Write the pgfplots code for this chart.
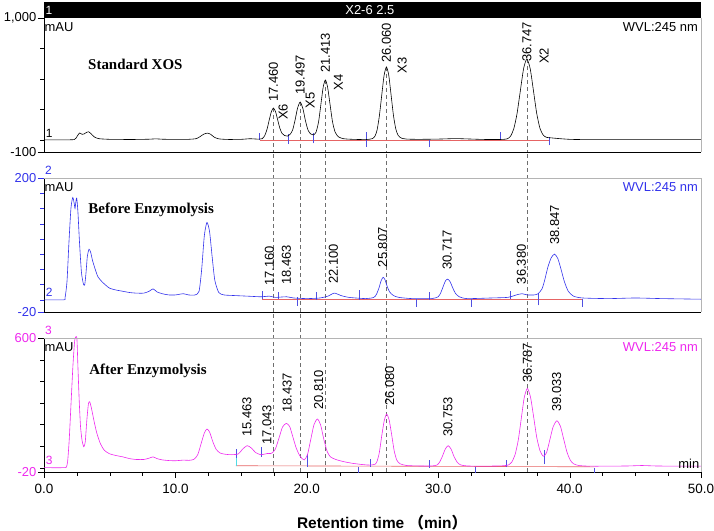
\documentclass[border=0pt]{standalone}
\usepackage{pgfplots}
\pgfplotsset{compat=1.18}
\usepackage{fontspec}
\setmainfont{Liberation Sans}
\newfontfamily\titlefont{Liberation Serif}
\newfontfamily\cjk{Noto Sans CJK SC}
\definecolor{cblue}{RGB}{50,50,235}
\definecolor{cmag}{RGB}{238,40,238}
\definecolor{cred}{RGB}{230,100,100}
\definecolor{cbord}{RGB}{180,180,180}
\definecolor{cdash}{RGB}{110,110,110}
\definecolor{ctick}{RGB}{80,80,225}
\definecolor{ccyan}{RGB}{80,220,230}
\newcommand{\fs}{\fontsize{13}{13}\selectfont}
\newcommand{\fn}{\fontsize{12}{12}\selectfont}
\tikzset{
  plab/.style={rotate=90, anchor=west, font=\fs, inner sep=0pt},
  xlab/.style={rotate=90, anchor=center, font=\fs, inner sep=0pt},
  ttl/.style={anchor=base west, font=\titlefont\bfseries\fontsize{15}{15}\selectfont, inner sep=0pt},
}
\begin{document}
\begin{tikzpicture}
\pgfplotsset{
  panel/.style={
    scale only axis, width=657bp, height=134bp,
    xmin=0, xmax=50,
    axis x line*=bottom, axis y line*=left,
    axis line style={black, line width=0.6pt, -},
    tick align=outside,
    major tick length=6bp, minor tick length=3.5bp,
    tick label style={font=\fs},
    yticklabel style={inner xsep=1.5bp},
    xticklabel style={yshift=-2.5bp, font=\fontsize{13.5}{13.5}\selectfont},
    clip=false,
    unbounded coords=jump,
  },
  curve/.style={line width=0.6pt, smooth, tension=0.4, no marks},
  dline/.style={cdash, line width=0.6pt, dash pattern=on 4bp off 3bp, no marks},
  itick/.style={ctick, line width=0.6pt, no marks},
  ibase/.style={cred, line width=0.6pt, no marks},
}
% ---------------- TOP ----------------
\begin{axis}[panel, at={(0bp,320bp)}, anchor=south west,
  ymin=-100, ymax=1000, ytick={-100,1000}, yticklabels={-100,{1,000}},
  minor ytick={0,250,500,750}, xtick=\empty, tick style={black}]
\addplot[dline] coordinates {(17.46,261) (17.46,-100) (0,nan) (19.497,310) (19.497,-100) (0,nan) (21.413,491) (21.413,-100) (0,nan) (26.06,598) (26.06,-100) (0,nan) (36.747,663) (36.747,-100)};
\addplot[ibase] coordinates {(16.41,0) (38.44,0)};
\addplot[itick] coordinates {(16.41,0) (16.41,60) (0,nan) (18.62,-35) (18.62,50) (0,nan) (20.53,-30) (20.53,55) (0,nan) (24.5,-55) (24.5,65) (0,nan) (29.34,-60) (29.34,0) (0,nan) (34.76,0) (34.76,65) (0,nan) (38.44,-45) (38.44,25)};
\addplot[black, curve] coordinates {
(0,0) (1.5,0) (2.3,2) (2.5,25) (2.7,56) (2.9,45) (3.05,48) (3.25,62) (3.4,66) (3.6,48) (3.85,22) (4.2,9) (5,4) (6,3) (7,3) (8,5) (8.5,8) (9,5) (10,3) (11,4) (11.6,10) (11.9,28) (12.15,46) (12.45,55) (12.7,44) (12.95,22) (13.3,8) (14,3) (15,4) (15.7,9) (16.2,6) (16.6,9)
(16.8,35) (16.97,85) (17.13,158) (17.3,230) (17.46,261) (17.62,231) (17.79,162) (17.95,95) (18.12,52) (18.3,36) (18.55,31) (18.75,48)
(18.92,80) (19.1,158) (19.3,262) (19.497,310) (19.7,258) (19.9,155) (20.1,78) (20.3,48) (20.5,40)
(20.7,62) (20.9,150) (21.1,315) (21.25,434) (21.413,491) (21.58,434) (21.75,306) (21.95,152) (22.15,65) (22.4,25) (22.8,9) (23.5,4) (24.5,2)
(25.0,10) (25.2,33) (25.35,81) (25.52,194) (25.7,363) (25.88,528) (26.06,598) (26.24,528) (26.42,363) (26.6,196) (26.78,86) (26.96,35) (27.2,14) (27.6,6) (28.5,4) (30,6) (31.3,10) (32.3,7) (33.5,3) (34.8,3)
(35.25,8) (35.5,29) (35.75,90) (36.0,215) (36.25,402) (36.5,585) (36.747,663) (37.0,585) (37.25,402) (37.5,215) (37.75,92) (38.0,38) (38.25,20) (38.6,16) (39.2,10) (40,4) (41,2) (45,1) (50,1)};
\draw[cbord, line width=0.6pt] (rel axis cs:1,0) -- (rel axis cs:1,1);
\fill[black] (rel axis cs:0,1) rectangle ([yshift=16bp]rel axis cs:1,1);
\node[white, font=\fs, inner sep=0pt] at ([yshift=8bp]rel axis cs:0.496,1) {X2-6 2.5};
\node[white, font=\fn, inner sep=0pt, anchor=west] at ([xshift=1.5bp,yshift=8bp]rel axis cs:0,1) {1};
\node[font=\fs, inner sep=0pt, anchor=north west] at ([xshift=0.5bp,yshift=-4.5bp]rel axis cs:0,1) {mAU};
\node[font=\fs, inner sep=0pt, anchor=north east] at ([xshift=-3bp,yshift=-4.5bp]rel axis cs:1,1) {WVL:245 nm};
\node[font=\fn, inner sep=0pt, anchor=south west] at (axis cs:0.12,20) {1};
\node[ttl] at (axis cs:3.35,581) {Standard XOS};
\node[plab] at (axis cs:17.46,313) {17.460};
\node[plab] at (axis cs:19.497,368) {19.497};
\node[plab] at (axis cs:21.413,549) {21.413};
\node[plab] at (axis cs:26.06,631) {26.060};
\node[plab] at (axis cs:36.747,639) {36.747};
\node[xlab] at (axis cs:18.2,228) {X6};
\node[xlab] at (axis cs:20.27,321) {X5};
\node[xlab] at (axis cs:22.4,470) {X4};
\node[xlab] at (axis cs:27.26,610) {X3};
\node[xlab] at (axis cs:38.06,690) {X2};
\end{axis}
% ---------------- MIDDLE ----------------
\begin{axis}[panel, at={(0bp,160bp)}, anchor=south west,
  ymin=-20, ymax=200, ytick={-20,200}, yticklabels={-20,200},
  minor ytick={0,25,50,75,100,125,150,175}, xtick=\empty, tick style={cblue},
  yticklabel style={text=cblue}]
\addplot[dline] coordinates {(17.46,-20) (17.46,243) (0,nan) (19.497,-20) (19.497,243) (0,nan) (21.413,-20) (21.413,243) (0,nan) (26.06,-20) (26.06,243) (0,nan) (36.747,-20) (36.747,243)};
\addplot[ibase] coordinates {(16.59,0.5) (40.98,0.5)};
\addplot[itick] coordinates {(16.59,2) (16.59,15) (0,nan) (17.86,1) (17.86,13) (0,nan) (19.26,-10) (19.26,4) (0,nan) (20.73,0) (20.73,13) (0,nan) (23.96,0) (23.96,16) (0,nan) (28.35,-11) (28.35,1) (0,nan) (29.34,0) (29.34,13) (0,nan) (32.55,-11) (32.55,1) (0,nan) (35.47,1) (35.47,14) (0,nan) (37.6,-9) (37.6,11) (0,nan) (40.98,-11) (40.98,1)};
\addplot[cblue, curve] coordinates {
(0,0) (1.5,0) (1.6,3) (1.75,30) (1.9,95) (2.05,150) (2.19,168) (2.3,158) (2.36,150) (2.42,160) (2.49,167) (2.58,145) (2.7,95) (2.85,45) (3.0,26) (3.1,25) (3.2,45) (3.3,72) (3.43,83) (3.55,78) (3.7,64) (3.9,50) (4.1,38) (4.4,30) (4.7,24) (5.0,19) (5.5,16) (6,14) (6.5,12) (7,11) (7.6,11) (8.0,14) (8.3,18) (8.6,13) (9.0,10) (9.5,8) (10,8) (10.6,10) (11,8) (11.5,8) (11.8,14) (12.0,50) (12.2,105) (12.4,127) (12.6,112) (12.8,70) (13.0,32) (13.3,12) (13.7,8) (14.5,7) (15.5,6) (16.5,5) (17.16,6) (17.6,4) (18.46,5) (19,3) (20,2) (21,3) (21.6,6) (22.1,11) (22.6,7) (23.2,4) (24.5,2)
(25.1,4) (25.3,9) (25.5,20) (25.65,31) (25.807,37) (25.95,33) (26.1,23) (26.3,13) (26.6,7) (27.0,4) (28,2) (29.5,2)
(30.0,5) (30.2,12) (30.4,23) (30.55,31) (30.717,34) (30.9,30) (31.1,20) (31.3,11) (31.6,5) (32.2,2) (34,3) (35.3,4) (35.8,7) (36.1,9) (36.38,10) (36.8,8) (37.3,8)
(37.6,10) (37.9,18) (38.1,32) (38.35,54) (38.6,69) (38.847,75) (39.1,68) (39.35,50) (39.6,30) (39.9,14) (40.3,6) (41,3) (43,2) (45,3) (47,2) (50,1)};
\draw[cbord, line width=0.6pt] (rel axis cs:0,1) -- (rel axis cs:1,1) -- (rel axis cs:1,0);
\node[font=\fs, inner sep=0pt, anchor=north west] at ([xshift=0.5bp,yshift=-4.5bp]rel axis cs:0,1) {mAU};
\node[font=\fs, text=cblue, inner sep=0pt, anchor=north east] at ([xshift=-3bp,yshift=-4.5bp]rel axis cs:1,1) {WVL:245 nm};
\node[font=\fn, text=cblue, inner sep=0pt, anchor=south west] at ([xshift=1bp,yshift=3bp]rel axis cs:0,1) {2};
\node[font=\fn, text=cblue, inner sep=0pt, anchor=south west] at (axis cs:0.12,5) {2};
\node[ttl] at (axis cs:3.37,142) {Before Enzymolysis};
\node[plab] at (axis cs:17.16,22.7) {17.160};
\node[plab] at (axis cs:18.44,24) {18.463};
\node[plab] at (axis cs:22.03,26) {22.100};
\node[plab] at (axis cs:25.78,53.4) {25.807};
\node[plab] at (axis cs:30.69,49) {30.717};
\node[plab] at (axis cs:36.33,25.5) {36.380};
\node[plab] at (axis cs:38.87,90) {38.847};
\end{axis}
% ---------------- BOTTOM ----------------
\begin{axis}[panel, at={(0bp,0bp)}, anchor=south west,
  ymin=-20, ymax=600, ytick={-20,600}, yticklabels={-20,600},
  minor ytick={0,100,200,300,400,500},
  xtick={0,10,20,30,40,50}, xticklabels={0.0,10.0,20.0,30.0,40.0,50.0},
  minor xtick={2.5,5,7.5,12.5,15,17.5,22.5,25,27.5,32.5,35,37.5,42.5,45,47.5},
  tick style={black}, yticklabel style={text=cmag}]
\addplot[dline] coordinates {(17.46,-20) (17.46,720) (0,nan) (19.497,-20) (19.497,720) (0,nan) (21.413,-20) (21.413,720) (0,nan) (26.06,-20) (26.06,720) (0,nan) (36.747,-20) (36.747,720)};
\addplot[ibase] coordinates {(14.61,9) (41.9,4)};
\addplot[ccyan, line width=0.6pt, no marks] coordinates {(14.61,9) (14.61,45)};
\addplot[itick] coordinates {(14.61,45) (14.61,85) (0,nan) (16.54,50) (16.54,97) (0,nan) (20.02,5) (20.02,63) (0,nan) (23.9,-26) (23.9,5) (0,nan) (24.85,5) (24.85,39) (0,nan) (29.34,0) (29.34,35) (0,nan) (32.8,-23) (32.8,5) (0,nan) (35.19,5) (35.19,35) (0,nan) (38.08,17) (38.08,82) (0,nan) (41.9,-23) (41.9,0)};
\addplot[cmag, curve] coordinates {
(0,0) (1.5,0) (1.7,3) (1.8,30) (1.92,130) (2.06,300) (2.2,470) (2.31,570) (2.37,600) (2.5,600) (2.58,470) (2.68,310) (2.78,190) (2.9,125) (3.03,97) (3.14,120) (3.26,220) (3.38,295) (3.48,305) (3.62,272) (3.82,212) (4.02,160) (4.3,110) (4.6,80) (5.0,64) (5.5,56) (6,50) (6.5,42) (7,38) (7.6,38) (8.0,44) (8.3,50) (8.6,42) (9.0,36) (9.5,33) (10,32) (10.6,35) (11,34) (11.4,38) (11.7,60) (11.95,110) (12.2,160) (12.4,179) (12.6,165) (12.85,120) (13.1,85) (13.4,68) (13.8,62) (14.3,60) (14.8,64) (15.1,85) (15.46,102) (15.8,90) (16.1,70) (16.5,60) (16.8,63) (17.04,66) (17.3,66) (17.6,85) (17.9,140) (18.15,188) (18.44,205) (18.7,190) (18.95,140) (19.2,90) (19.5,52) (19.8,36) (20.05,60) (20.3,130) (20.55,200) (20.81,225) (21.05,198) (21.3,130) (21.55,75) (21.8,50) (22.2,38) (22.8,28) (23.5,20) (24.3,14) (24.8,12)
(25.2,16) (25.35,30) (25.52,70) (25.71,150) (25.9,220) (26.08,248) (26.27,220) (26.46,152) (26.65,78) (26.85,35) (27.1,18) (27.6,10) (28.5,8) (29.5,8)
(29.9,12) (30.1,25) (30.3,50) (30.53,85) (30.753,102) (30.98,86) (31.2,52) (31.45,25) (31.7,13) (32.2,8) (33.5,7) (35,9)
(35.4,14) (35.6,26) (35.85,60) (36.1,130) (36.35,240) (36.55,325) (36.787,367) (37.03,325) (37.27,232) (37.5,140) (37.75,78) (38.0,53) (38.25,70) (38.5,130) (38.75,190) (39.033,217) (39.3,192) (39.55,132) (39.8,72) (40.05,35) (40.3,18) (40.7,10) (41.5,7) (43,7) (44.5,8) (45.5,10) (46.5,8) (48,7) (50,7)};
\draw[cbord, line width=0.6pt] (rel axis cs:0,1) -- (rel axis cs:1,1) -- (rel axis cs:1,0);
\node[font=\fs, inner sep=0pt, anchor=north west] at ([xshift=0.5bp,yshift=-4.5bp]rel axis cs:0,1) {mAU};
\node[font=\fs, text=cmag, inner sep=0pt, anchor=north east] at ([xshift=-3bp,yshift=-4.5bp]rel axis cs:1,1) {WVL:245 nm};
\node[font=\fn, text=cmag, inner sep=0pt, anchor=south west] at ([xshift=1bp,yshift=3bp]rel axis cs:0,1) {3};
\node[font=\fn, text=cmag, inner sep=0pt, anchor=south west] at (axis cs:0.12,12) {3};
\node[font=\fs, inner sep=0pt, anchor=south east] at ([xshift=-1.5bp,yshift=3bp]rel axis cs:1,0) {min};
\node[ttl] at (axis cs:3.43,433) {After Enzymolysis};
\node[plab] at (axis cs:15.45,143) {15.463};
\node[plab] at (axis cs:16.97,105) {17.043};
\node[plab] at (axis cs:18.5,253) {18.437};
\node[plab] at (axis cs:20.9,267) {20.810};
\node[plab] at (axis cs:26.3,285) {26.080};
\node[plab] at (axis cs:30.74,143) {30.753};
\node[plab] at (axis cs:36.79,393) {36.787};
\node[plab] at (axis cs:39.02,259) {39.033};
\node[anchor=base, inner sep=0pt, font=\bfseries\fontsize{15.5}{15.5}\selectfont] at ([yshift=-56bp]rel axis cs:0.5145,0) {Retention time {\cjk （}min{\cjk ）}};
\end{axis}
\pgfresetboundingbox
\path[use as bounding box] (-44bp,-59bp) rectangle (670bp,472bp);
\end{tikzpicture}
\end{document}
